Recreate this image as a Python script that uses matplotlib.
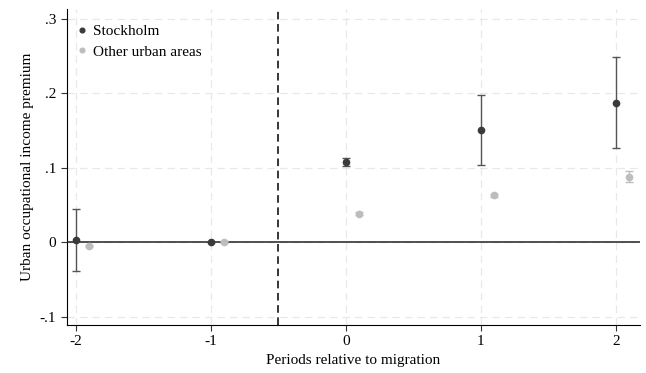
import matplotlib
matplotlib.use('Agg')
import matplotlib.pyplot as plt
import numpy as np

plt.rcParams['font.family'] = ['Liberation Serif', 'DejaVu Serif']

periods = [-2, -1, 0, 1, 2]

sthlm = [0.003, 0.0, 0.107, 0.150, 0.187]
sthlm_lo = [-0.039, 0.0, 0.102, 0.104, 0.127]
sthlm_hi = [0.044, 0.0, 0.113, 0.197, 0.249]

other = [-0.005, 0.0, 0.038, 0.063, 0.088]
other_lo = [-0.006, -0.001, 0.036, 0.061, 0.081]
other_hi = [-0.004, 0.001, 0.040, 0.065, 0.096]

yticks = [-0.1, 0, 0.1, 0.2, 0.3]
ytick_labels = ['-.1', '0', '.1', '.2', '.3']

dark = '#3a3a3a'
light = '#bdbdbd'

fig = plt.figure(figsize=(6.46, 3.73), dpi=100)
ax = fig.add_axes([0.103, 0.129, 0.888, 0.847])

x1 = np.array(periods, dtype=float)
x2 = x1 + 0.1
s = np.array(sthlm); o = np.array(other)
err1 = [s - np.array(sthlm_lo), np.array(sthlm_hi) - s]
err2 = [o - np.array(other_lo), np.array(other_hi) - o]

ax.errorbar(x1, s, yerr=err1, fmt='o', color=dark, ecolor='#555555', elinewidth=1,
            capsize=3, capthick=1, markersize=4.5, label='Stockholm', zorder=4)
ax.errorbar(x2, o, yerr=err2, fmt='o', color=light, ecolor=light, elinewidth=1,
            capsize=3, capthick=1, markersize=4.5, label='Other urban areas', zorder=4)

ax.axhline(0, color='#222222', lw=1.1, zorder=3)
ax.axvline(-0.5, color='black', lw=1.1, ls=(0, (5, 3)), zorder=3)

ax.set_xlim(-2.07, 2.18)
ax.set_ylim(-0.111, 0.313)
ax.set_xticks(periods)
ax.set_xticklabels([str(p) for p in periods])
ax.set_yticks(yticks)
ax.set_yticklabels(ytick_labels)
ax.grid(True, color='#e8e8e8', ls=(0, (6, 4)), lw=0.9)
ax.set_axisbelow(True)
ax.spines['top'].set_visible(False)
ax.spines['right'].set_visible(False)
ax.tick_params(labelsize=11, length=4, color='#333333')
ax.set_xlabel('Periods relative to migration', fontsize=11)
ax.set_ylabel('Urban occupational income premium', fontsize=11)

handles, labels = ax.get_legend_handles_labels()
handles = [h[0] for h in handles]
ax.legend(handles, labels, loc='upper left', bbox_to_anchor=(0.0, 0.975),
          frameon=False, fontsize=11, handletextpad=0.2, handlelength=1.0,
          borderaxespad=0.2, labelspacing=0.45, markerscale=0.75, borderpad=0.3)

fig.savefig('out.png', dpi=100)
